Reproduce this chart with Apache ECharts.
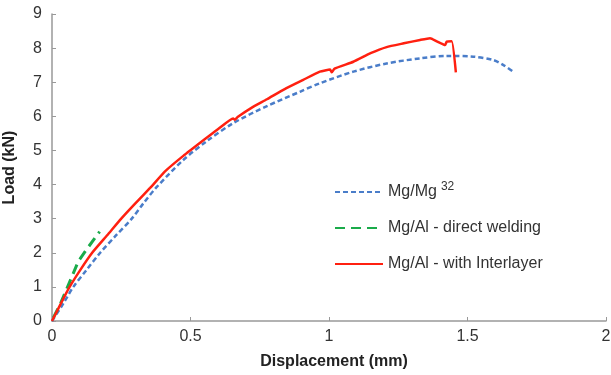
<!DOCTYPE html>
<html><head><meta charset="utf-8">
<script src="https://cdn.jsdelivr.net/npm/echarts@6/dist/echarts.min.js"></script>
<style>html,body{margin:0;padding:0;background:#fff}#c{width:611px;height:375px}</style>
</head><body><div id="c"></div>
<script>
const xTicks = [0, 0.5, 1, 1.5, 2];
const yTicks = [0,1,2,3,4,5,6,7,8,9];
const mgmgX = [0, 0.04, 0.077, 0.125, 0.174, 0.23, 0.288, 0.33, 0.375, 0.474, 0.56, 0.654, 0.776, 0.895, 0.967, 1.088, 1.208, 1.329, 1.425, 1.521, 1.593, 1.63, 1.665];
const mgmgY = [0, 0.5, 1.0, 1.5, 2.0, 2.5, 3.0, 3.45, 3.9, 4.72, 5.28, 5.8, 6.3, 6.72, 6.97, 7.31, 7.55, 7.7, 7.77, 7.75, 7.65, 7.5, 7.31];
const directX = [0.005, 0.03, 0.065, 0.095, 0.125, 0.172];
const directY = [0.1, 0.5, 1.17, 1.75, 2.1, 2.62];
const interX = [0, 0.03, 0.06, 0.1, 0.145, 0.2, 0.25, 0.3, 0.354, 0.41, 0.474, 0.55, 0.6, 0.654, 0.66, 0.67, 0.72, 0.776, 0.84, 0.907, 0.967, 1.004, 1.01, 1.02, 1.088, 1.15, 1.208, 1.27, 1.329, 1.365, 1.389, 1.419, 1.425, 1.443, 1.458];
const interY = [0, 0.48, 0.95, 1.47, 2.0, 2.52, 3.0, 3.44, 3.9, 4.4, 4.84, 5.32, 5.63, 5.94, 5.9, 5.98, 6.25, 6.5, 6.8, 7.07, 7.31, 7.37, 7.29, 7.4, 7.6, 7.85, 8.03, 8.14, 8.24, 8.29, 8.2, 8.09, 8.19, 8.2, 7.29];
const names = ['Mg/Mg32', 'Mg/Al - direct welding', 'Mg/Al - with Interlayer'];

const zip = (a, b) => a.map((v, i) => [v, b[i]]);
const chart = echarts.init(document.getElementById('c'));
const FONT = 'Liberation Sans';
chart.setOption({
  animation: false,
  textStyle: { fontFamily: FONT },
  grid: { left: 52, right: 5, top: 14, bottom: 54, containLabel: false, outerBoundsMode: 'none' },
  xAxis: {
    type: 'value', min: 0, max: 2, interval: 0.5,
    name: 'Displacement (mm)', nameLocation: 'middle', nameGap: 33,
    nameTextStyle: { fontFamily: FONT, fontWeight: 'bold', fontSize: 16, color: '#222', padding: [0, 0, 0, 10] },
    axisLine: { show: true, lineStyle: { color: '#999', width: 1.5 } },
    axisTick: { show: true, inside: true, length: 4, lineStyle: { color: '#999' } },
    axisLabel: { fontSize: 16, color: '#333', margin: 8, formatter: v => String(v) },
    splitLine: { show: false }
  },
  yAxis: {
    type: 'value', min: 0, max: 9, interval: 1,
    name: 'Load (kN)', nameLocation: 'middle', nameGap: 34,
    nameTextStyle: { fontFamily: FONT, fontWeight: 'bold', fontSize: 16, color: '#222' },
    axisLine: { show: true, lineStyle: { color: '#999', width: 1.5 } },
    axisTick: { show: true, inside: true, length: 4, lineStyle: { color: '#999' } },
    axisLabel: { fontSize: 16, color: '#333', margin: 10 },
    splitLine: { show: false }
  },
  legend: {
    orient: 'vertical', left: 329, top: 176, itemGap: 20, itemWidth: 48, itemHeight: 16,
    data: names,
    itemStyle: { opacity: 0 },
    formatter: n => n === names[0] ? '{a|Mg/Mg}{s|32}' : n,
    textStyle: { fontFamily: FONT, fontSize: 16, color: '#333',
      rich: { a: { fontFamily: FONT, fontSize: 16, color: '#333' },
              s: { fontFamily: FONT, fontSize: 12, color: '#333', verticalAlign: 'top', padding: [0,0,10,4] } } }
  },
  series: [
    { name: names[0], type: 'line', data: zip(mgmgX, mgmgY), symbol: 'none', smooth: 0.3,
      lineStyle: { color: '#4a7dc9', width: 2.5, type: [5, 3] }, itemStyle: { color: '#4a7dc9' }, z: 2 },
    { name: names[1], type: 'line', data: zip(directX, directY), symbol: 'none',
      lineStyle: { color: '#1aab4a', width: 3, type: [10, 6] }, itemStyle: { color: '#1aab4a' }, z: 3 },
    { name: names[2], type: 'line', data: zip(interX, interY), symbol: 'none', smooth: 0.15,
      lineStyle: { color: '#ff2010', width: 2.5 }, itemStyle: { color: '#ff2010' }, z: 4 }
  ]
});
</script></body></html>
